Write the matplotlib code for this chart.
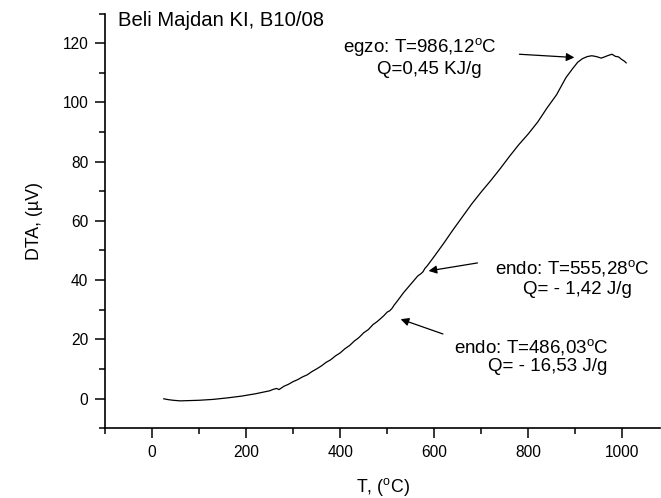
import matplotlib
matplotlib.use("Agg")
import matplotlib.pyplot as plt
from matplotlib.ticker import MultipleLocator

plt.rcParams['font.family'] = ['Liberation Sans', 'DejaVu Sans']
plt.rcParams['mathtext.fontset'] = 'custom'
plt.rcParams['mathtext.rm'] = 'Liberation Sans'
plt.rcParams['mathtext.it'] = 'Liberation Sans:italic'

# Data
temperature = [25, 35, 45, 60, 80, 100, 130, 160, 190, 220, 250, 258, 265, 270, 280, 290,
               300, 310, 320, 330, 340, 350, 360, 370, 380, 390, 400, 410, 420, 430,
               440, 450, 460, 470, 478, 486, 493, 500, 505, 510, 515, 520, 535, 550,
               565, 572, 576, 580, 585, 600, 620, 640, 660, 680, 700, 720, 740, 760,
               780, 800, 820, 840, 860, 880, 895, 905, 915, 925, 935, 945, 955, 962,
               970, 978, 985, 992, 998, 1004, 1008]
dta = [-0.1, -0.4, -0.6, -0.8, -0.7, -0.6, -0.3, 0.2, 0.8, 1.6, 2.6, 3.1, 3.4, 3.0, 4.1, 4.8,
       5.7, 6.4, 7.3, 8.0, 9.1, 10.0, 11.0, 12.2, 13.1, 14.4, 15.4, 16.8, 17.9, 19.4,
       20.6, 22.2, 23.3, 25.0, 25.9, 27.0, 28.0, 29.2, 29.6, 30.4, 31.6, 32.6, 35.8, 38.6,
       41.4, 42.2, 42.8, 43.9, 44.8, 48.0, 52.4, 57.0, 61.4, 65.8, 69.8, 73.6, 77.6, 81.8,
       85.8, 89.4, 93.4, 98.2, 102.6, 108.4, 111.6, 113.6, 114.8, 115.5, 115.8, 115.5, 115.0, 115.4,
       115.9, 116.3, 115.6, 115.4, 114.6, 114.0, 113.4]

xticks = [0, 200, 400, 600, 800, 1000]
yticks = [0, 20, 40, 60, 80, 100, 120]

title = "Beli Majdan KI, B10/08"
ann_texts = [
    (r"egzo: T=986,12$^{\rm o}$C", 406, 118.75),
    ("Q=0,45 KJ/g", 478, 111.3),
    (r"endo: T=555,28$^{\rm o}$C", 729, 44.1),
    ("Q= - 1,42 J/g", 788.5, 36.7),
    (r"endo: T=486,03$^{\rm o}$C", 642, 17.5),
    ("Q= - 16,53 J/g", 714, 10.7),
]
arrows = [
    ((781, 116.3), (898, 115.2)),
    ((692, 45.8), (588, 43.1)),
    ((618.5, 21.8), (528.6, 26.8)),
]

fig = plt.figure(figsize=(6.61, 4.98), dpi=100)
ax = fig.add_axes([105/661, 1 - 428.1/498, (660-105)/661, (428.1-13.7)/498])

ax.plot(temperature, dta, color='black', lw=0.9)

ax.set_xlim(-100, 1080)
ax.set_ylim(-10, 130)
ax.set_xticks(xticks)
ax.set_yticks(yticks)
ax.xaxis.set_minor_locator(MultipleLocator(100))
ax.yaxis.set_minor_locator(MultipleLocator(10))

for s in ['top', 'right']:
    ax.spines[s].set_visible(False)
for s in ['left', 'bottom']:
    ax.spines[s].set_linewidth(1.2)

ax.tick_params(which='major', direction='out', length=7, width=1.1, labelsize=11.2, pad=5)
ax.tick_params(which='minor', direction='out', length=4, width=1.1)

ax.set_xlabel(r"T, ($^{\rm o}$C)", fontsize=12.8, labelpad=12)
ax.set_ylabel("DTA, (µV)", fontsize=12.8, labelpad=14)

ax.text(-72, 127.6, title, fontsize=14.6, ha='left', va='center')

for txt, x, y in ann_texts:
    ax.text(x, y, txt, fontsize=13.5, ha='left', va='center')

for (tail, head) in arrows:
    ax.annotate("", xy=head, xytext=tail,
                arrowprops=dict(arrowstyle='-|>', color='black', lw=0.9,
                                mutation_scale=12, shrinkA=0, shrinkB=0))

fig.savefig("out.png", dpi=100)
